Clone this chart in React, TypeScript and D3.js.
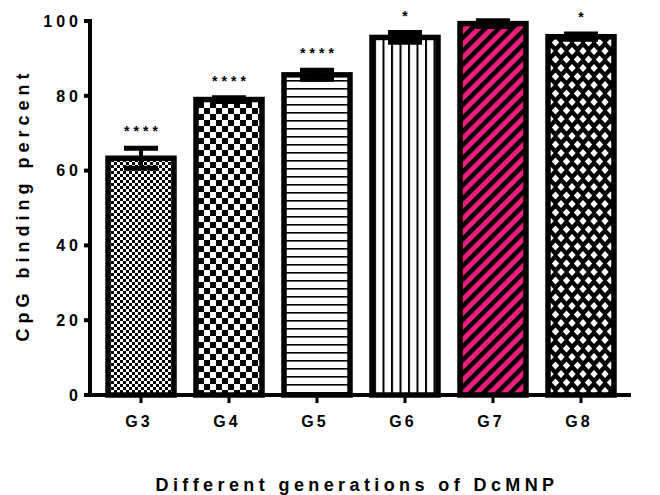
import React from "react";
import * as d3 from "d3";

// Data: CpG binding percent for each dendrimer generation (mean ± SD)
const groups = ["G3", "G4", "G5", "G6", "G7", "G8"];
const means = [63.3, 79.0, 85.6, 95.6, 99.3, 95.8];
const sds = [2.7, 0.5, 1.2, 1.3, 0.8, 0.7];
const significance = ["****", "****", "****", "*", "", "*"];
const yTicks = [0, 20, 40, 60, 80, 100];

const W = 660;
const H = 495;
const FONT = "'Liberation Sans', Arial, Helvetica, sans-serif";
const PINK = "#ee1c7f";

// Fill pattern for each bar
const fillIds: Record<string, string> = {
  G3: "pat-check-fine",
  G4: "pat-check-coarse",
  G5: "pat-hlines",
  G6: "pat-vlines",
  G7: "pat-diag",
  G8: "pat-diamond",
};

export default function App() {
  const y = d3.scaleLinear().domain([0, 100]).range([395, 21]);
  const x = d3.scalePoint<string>().domain(groups).range([141, 581]);

  const barW = 66;
  const capW = 34;
  const axisX = 90;
  const baseY = y(0);

  const dW = 11;
  const dH = 17;

  return (
    <svg
      width={W}
      height={H}
      viewBox={`0 0 ${W} ${H}`}
      style={{ position: "absolute", left: 0, top: 0, background: "#fff" }}
    >
      <defs>
        <pattern id="pat-check-fine" width={6} height={6} patternUnits="userSpaceOnUse">
          <rect width={6} height={6} fill="#fff" />
          <rect width={3} height={3} fill="#000" />
          <rect x={3} y={3} width={3} height={3} fill="#000" />
        </pattern>
        <pattern id="pat-check-coarse" width={12} height={12} patternUnits="userSpaceOnUse">
          <rect width={12} height={12} fill="#fff" />
          <rect width={6} height={6} fill="#000" />
          <rect x={6} y={6} width={6} height={6} fill="#000" />
        </pattern>
        <pattern id="pat-hlines" width={8} height={8} patternUnits="userSpaceOnUse">
          <rect width={8} height={8} fill="#fff" />
          <rect y={0} width={8} height={1.6} fill="#000" />
        </pattern>
        <pattern id="pat-vlines" width={8.5} height={8} patternUnits="userSpaceOnUse">
          <rect width={8.5} height={8} fill="#fff" />
          <rect x={0} width={2} height={8} fill="#000" />
        </pattern>
        <pattern
          id="pat-diag"
          width={9.5}
          height={9.5}
          patternUnits="userSpaceOnUse"
          patternTransform="rotate(45)"
        >
          <rect width={9.5} height={9.5} fill={PINK} />
          <rect width={4.5} height={9.5} fill="#000" />
        </pattern>
        <pattern id="pat-diamond" width={dW} height={dH} patternUnits="userSpaceOnUse">
          <rect width={dW} height={dH} fill="#000" />
          {[
            [dW / 2, dH / 2],
            [0, 0],
            [dW, 0],
            [0, dH],
            [dW, dH],
          ].map(([cx, cy], i) => (
            <polygon
              key={i}
              points={`${cx},${cy - 3.9} ${cx + 3.7},${cy} ${cx},${cy + 3.9} ${cx - 3.7},${cy}`}
              fill="#fff"
            />
          ))}
        </pattern>
      </defs>

      {/* Bars */}
      {groups.map((g, i) => {
        const cx = x(g)!;
        const top = y(means[i]);
        return (
          <rect
            key={g}
            x={cx - barW / 2}
            y={top}
            width={barW}
            height={baseY - top}
            fill={`url(#${fillIds[g]})`}
            stroke="#000"
            strokeWidth={5.5}
          />
        );
      })}

      {/* Error bars */}
      {groups.map((g, i) => {
        const cx = x(g)!;
        const hi = y(means[i] + sds[i]);
        const lo = y(means[i] - sds[i]);
        return (
          <g key={g} stroke="#000">
            <line x1={cx} x2={cx} y1={hi} y2={lo} strokeWidth={4} />
            <line x1={cx - capW / 2} x2={cx + capW / 2} y1={hi} y2={hi} strokeWidth={5} />
            <line x1={cx - capW / 2} x2={cx + capW / 2} y1={lo} y2={lo} strokeWidth={5} />
          </g>
        );
      })}

      {/* Significance marks */}
      {groups.map((g, i) => {
        const cx = x(g)!;
        const hi = y(means[i] + sds[i]);
        return (
          <text
            key={g}
            x={cx + 2}
            y={hi - 12}
            textAnchor="middle"
            fontFamily={FONT}
            fontWeight="bold"
            fontSize={14}
            letterSpacing={4}
            fill="#000"
          >
            {significance[i]}
          </text>
        );
      })}

      {/* Y axis */}
      <line x1={axisX} x2={axisX} y1={baseY + 2} y2={y(100) - 2} stroke="#000" strokeWidth={4} />
      {yTicks.map((t) => (
        <g key={t}>
          <line x1={axisX - 6} x2={axisX} y1={y(t)} y2={y(t)} stroke="#000" strokeWidth={4} />
          <text
            x={82}
            y={y(t)}
            dy="0.36em"
            textAnchor="end"
            fontFamily={FONT}
            fontWeight="bold"
            fontSize={16}
            letterSpacing={4}
            fill="#000"
          >
            {t}
          </text>
        </g>
      ))}

      {/* X axis */}
      <line x1={axisX - 6} x2={631} y1={baseY} y2={baseY} stroke="#000" strokeWidth={4} />
      {groups.map((g) => (
        <g key={g}>
          <line x1={x(g)!} x2={x(g)!} y1={baseY} y2={baseY + 8} stroke="#000" strokeWidth={3} />
          <text
            x={x(g)! - 2}
            y={427}
            textAnchor="middle"
            fontFamily={FONT}
            fontWeight="bold"
            fontSize={16}
            letterSpacing={3}
            fill="#000"
          >
            {g}
          </text>
        </g>
      ))}

      {/* Axis titles */}
      <text
        x={357}
        y={491}
        textAnchor="middle"
        fontFamily={FONT}
        fontWeight="bold"
        fontSize={18}
        letterSpacing={4.4}
        fill="#000"
      >
        Different generations of DcMNP
      </text>
      <text
        transform={`translate(29, 205) rotate(-90)`}
        textAnchor="middle"
        fontFamily={FONT}
        fontWeight="bold"
        fontSize={18}
        letterSpacing={5}
        fill="#000"
      >
        CpG binding percent
      </text>
    </svg>
  );
}
